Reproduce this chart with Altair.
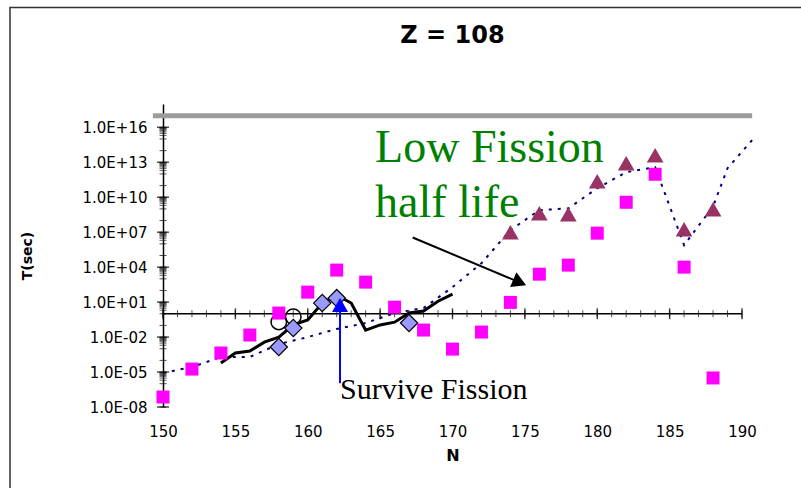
import altair as alt
import pandas as pd

# ---------------- data ----------------
# pink squares
sq_n = [150, 152, 154, 156, 158, 160, 162, 164, 166, 168, 170, 172, 174, 176, 178, 180, 182, 184, 186, 188]
sq_t = [7.2e-8, 1.8e-5, 4.3e-4, 1.5e-2, 1.15, 72, 5.6e3, 5.2e2, 3.7, 4.0e-2, 9.3e-4, 2.7e-2,
        9.5, 2.5e3, 1.5e4, 8.3e6, 3.7e9, 9.3e11, 1.0e4, 3.1e-6]
# maroon triangles
tri_n = [174, 176, 178, 180, 182, 184, 186, 188]
tri_t = [1.0e7, 4.3e8, 3.5e8, 2.3e11, 8.3e12, 4.0e13, 1.8e7, 9.3e8]
# blue diamonds
dia_n = [158, 159, 161, 162, 167]
dia_t = [1.4e-3, 5.9e-2, 8.3, 22, 0.16]
# open circles
circ_n = [158, 159]
circ_t = [0.2, 0.55]
# black solid line
line_n = [154, 155, 156, 157, 158, 159, 160, 161, 162, 163, 164, 165, 166, 167, 168, 169, 170]
line_t = [5.9e-5, 4.3e-4, 6.3e-4, 3.7e-3, 1.0e-2, 0.11, 0.29, 8.3, 40, 8.3, 4.0e-2, 0.11, 0.19,
          1.15, 1.7, 12, 49]
# navy dotted line
dot_n = [150, 152, 154, 156, 158, 160, 162, 164, 166, 168, 170, 172, 174, 176, 178, 180, 182,
         184, 186, 188, 189, 190, 190.7]
dot_t = [8.3e-6, 2.7e-5, 1.9e-4, 2.0e-4, 2.5e-3, 1.0e-2, 5.0e-2, 0.16, 1.15, 3.1, 1.9e2, 2.2e4,
         1.5e7, 7.8e8, 1.1e9, 5.9e10, 1.4e12, 3.8e12, 7.8e5, 1.6e9, 3.1e12, 8e13, 8e14]
# grey band at the top
band_n = [149.3, 190.7]
band_t = [1e17, 1e17]

# annotations
low_text = ["Low Fission", "half life"]
low_n = [164.65, 164.65]
low_t = [1e13, 1.95e8]
surv_text = ["Survive Fission"]
surv_n = [162.23]
surv_t = [4.9e-8]
arrow_n = [167.25, 174.64]
arrow_t = [3.5e6, 490]
barrow_n = [162.23, 162.23]
barrow_t = [1.1e-6, 5.6]

# axis ticks / labels
x_labels = [150, 155, 160, 165, 170, 175, 180, 185, 190]
x_minor = list(range(150, 191))
y_labels = [1e-8, 1e-5, 1e-2, 1e1, 1e4, 1e7, 1e10, 1e13, 1e16]
y_decades = [10.0 ** e for e in range(-8, 17)]
y_cluster = [m * 10.0 ** (e - 1) for e in [-5, -2, 1, 4, 7, 10, 13, 16] for m in range(2, 10)]

# ---------------- chart ----------------
xs = alt.Scale(domain=[150, 190], nice=False, zero=False)
ys = alt.Scale(type="log", domain=[1e-8, 1e18], nice=False)

SANS = "DejaVu Sans"
SERIF = "Liberation Serif"

label_expr = ("'1.0E' + (round(log(datum.value)/LN10) < 0 ? '-' : '+') + "
              "(abs(round(log(datum.value)/LN10)) < 10 ? '0' : '') + abs(round(log(datum.value)/LN10))")

x_axis = alt.Axis(values=x_labels, domain=False, ticks=False, grid=False, labelPadding=17,
                  labelFlush=False, labelFont=SANS, labelFontSize=15, labelColor="black",
                  title="N", titleFont=SANS, titleFontSize=16, titleFontWeight="bold",
                  titleColor="black", titlePadding=8)
y_axis = alt.Axis(values=y_labels, labelExpr=label_expr, domain=True, domainColor="black",
                  domainWidth=1.5, ticks=False, grid=False, labelPadding=16, labelFlush=False,
                  labelFont=SANS, labelFontSize=15, labelColor="black", title="T(sec)",
                  titleFont=SANS, titleFontSize=14, titleFontWeight="bold", titleColor="black",
                  titlePadding=48)


def df(n, t, **extra):
    d = pd.DataFrame({"N": n, "T": t})
    for k, v in extra.items():
        d[k] = v
    return d


def X():
    return alt.X("N:Q", scale=xs, axis=x_axis, title="N")


def Y():
    return alt.Y("T:Q", scale=ys, axis=y_axis, title="T(sec)")


frame = alt.Chart(pd.DataFrame({"a": [0]})).mark_rect(
    fill=None, stroke="#333333", strokeWidth=1.5
).encode(x=alt.value(-153), y=alt.value(-96.5), x2=alt.value(900), y2=alt.value(700))

band = alt.Chart(df(band_n, band_t)).mark_line(
    color="#9c9c9c", strokeWidth=5, strokeCap="butt"
).encode(x=X(), y=Y())

xaxis_line = alt.Chart(df([150, 190], [1, 1])).mark_line(color="black", strokeWidth=1.5).encode(
    x=X(), y=Y())
x_minor_ticks = alt.Chart(df(x_minor, [1] * len(x_minor))).mark_tick(
    orient="vertical", size=7, thickness=1, color="black").encode(x=X(), y=Y())
x_major_ticks = alt.Chart(df(x_labels, [1] * len(x_labels))).mark_tick(
    orient="vertical", size=11, thickness=1.5, color="black").encode(x=X(), y=Y())

y_dec_ticks = alt.Chart(df([150] * len(y_decades), y_decades)).mark_tick(
    orient="horizontal", size=7, thickness=1, color="black").encode(x=X(), y=Y())
y_cl_ticks = alt.Chart(df([150] * len(y_cluster), y_cluster)).mark_tick(
    orient="horizontal", size=7, thickness=1, color="#222222").encode(x=X(), y=Y())
y_major_ticks = alt.Chart(df([150] * len(y_labels), y_labels)).mark_tick(
    orient="horizontal", size=12, thickness=1.5, color="black").encode(x=X(), y=Y())

dotted = alt.Chart(df(dot_n, dot_t)).mark_line(
    color="#000080", strokeWidth=2, strokeDash=[3, 6]).encode(x=X(), y=Y())
solid = alt.Chart(df(line_n, line_t)).mark_line(
    color="black", strokeWidth=3).encode(x=X(), y=Y())
circles = alt.Chart(df(circ_n, circ_t)).mark_point(
    shape="circle", size=240, filled=False, stroke="black", strokeWidth=1.5, opacity=1
).encode(x=X(), y=Y())
diamonds = alt.Chart(df(dia_n, dia_t)).mark_point(
    shape="diamond", size=300, filled=True, fill="#9999FF", stroke="black", strokeWidth=1.2,
    opacity=1).encode(x=X(), y=Y())
squares = alt.Chart(df(sq_n, sq_t)).mark_square(
    size=169, color="#FF00FF", opacity=1).encode(x=X(), y=Y())
triangles = alt.Chart(df(tri_n, tri_t)).mark_point(
    shape="triangle-up", size=280, filled=True, color="#993366", opacity=1).encode(x=X(), y=Y())

arrow_line = alt.Chart(df(arrow_n, arrow_t)).mark_line(color="black", strokeWidth=2).encode(
    x=X(), y=Y())
arrow_head = alt.Chart(df(arrow_n[1:], arrow_t[1:])).mark_point(
    shape="triangle-right", size=260, angle=23, filled=True, color="black", opacity=1
).encode(x=X(), y=Y())
barrow_line = alt.Chart(df(barrow_n, barrow_t)).mark_line(color="#0000FF", strokeWidth=2).encode(
    x=X(), y=Y())
barrow_head = alt.Chart(df(barrow_n[1:], barrow_t[1:])).mark_point(
    shape="triangle-up", size=260, filled=True, color="#0000FF", opacity=1
).encode(x=X(), y=Y())

low = alt.Chart(df(low_n, low_t, label=low_text)).mark_text(
    font=SERIF, fontSize=46, color="#008000", align="left", baseline="alphabetic"
).encode(x=X(), y=Y(), text="label:N")
surv = alt.Chart(df(surv_n, surv_t, label=surv_text)).mark_text(
    font=SERIF, fontSize=30, color="black", align="left", baseline="alphabetic"
).encode(x=X(), y=Y(), text="label:N")

chart = alt.layer(
    frame, band, dotted, xaxis_line, x_minor_ticks, x_major_ticks,
    y_dec_ticks, y_cl_ticks, y_major_ticks,
    solid, circles, diamonds, squares, triangles,
    arrow_line, arrow_head, barrow_line, barrow_head, low, surv
).properties(
    width=579, height=303,
    title=alt.Title("Z = 108", font=SANS, fontSize=24, fontWeight="bold", color="black",
                    anchor="middle", frame="group", baseline="alphabetic", offset=0, dy=60),
    autosize=alt.AutoSizeParams(type="none"),
    padding={"left": 163, "top": 104, "right": 59, "bottom": 81},
    background="white",
).configure_view(stroke=None)

chart.save("out.html", embed_options={"renderer": "svg", "actions": False})
